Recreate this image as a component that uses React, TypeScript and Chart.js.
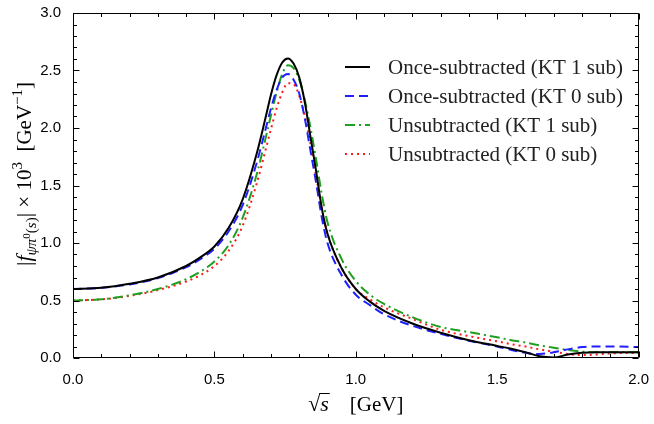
import React, { useEffect, useRef } from "react";
import { Chart, registerables } from "chart.js";
Chart.register(...registerables);

// sqrt(s) in GeV
const sqrtS = [0, 0.1, 0.2, 0.3, 0.4, 0.45, 0.5, 0.55, 0.6, 0.65, 0.68, 0.7, 0.72, 0.74, 0.76, 0.78, 0.8, 0.82, 0.84, 0.86, 0.88, 0.9, 0.95, 1.0, 1.05, 1.1, 1.2, 1.3, 1.4, 1.5, 1.55, 1.6, 1.65, 1.7, 1.75, 1.8, 1.85, 1.9, 2.0];

const onceKT1 = [0.60, 0.61, 0.645, 0.70, 0.80, 0.875, 0.97, 1.13, 1.38, 1.78, 2.08, 2.29, 2.46, 2.57, 2.605, 2.56, 2.44, 2.22, 1.92, 1.62, 1.30, 1.08, 0.78, 0.60, 0.49, 0.41, 0.30, 0.22, 0.155, 0.105, 0.08, 0.05, 0.015, 0.005, 0.03, 0.045, 0.05, 0.05, 0.05];
const onceKT0 = [0.60, 0.61, 0.64, 0.695, 0.79, 0.86, 0.95, 1.10, 1.33, 1.70, 1.98, 2.17, 2.33, 2.44, 2.47, 2.42, 2.30, 2.08, 1.80, 1.52, 1.22, 1.00, 0.72, 0.55, 0.46, 0.38, 0.28, 0.21, 0.15, 0.10, 0.07, 0.045, 0.035, 0.05, 0.075, 0.095, 0.10, 0.10, 0.095];
const unsubKT1 = [0.50, 0.51, 0.545, 0.60, 0.685, 0.75, 0.84, 0.98, 1.22, 1.60, 1.90, 2.11, 2.31, 2.47, 2.545, 2.52, 2.42, 2.24, 2.00, 1.72, 1.42, 1.18, 0.86, 0.67, 0.55, 0.47, 0.355, 0.27, 0.225, 0.18, 0.155, 0.135, 0.11, 0.09, 0.07, 0.055, 0.05, 0.05, 0.05];
const unsubKT0 = [0.50, 0.51, 0.54, 0.59, 0.665, 0.72, 0.80, 0.93, 1.15, 1.52, 1.80, 1.99, 2.17, 2.31, 2.39, 2.38, 2.28, 2.10, 1.86, 1.58, 1.30, 1.08, 0.78, 0.60, 0.51, 0.44, 0.34, 0.245, 0.19, 0.145, 0.12, 0.10, 0.075, 0.055, 0.035, 0.025, 0.03, 0.04, 0.045];

const seriesLabels = [
  "Once-subtracted (KT 1 sub)",
  "Once-subtracted (KT 0 sub)",
  "Unsubtracted (KT 1 sub)",
  "Unsubtracted (KT 0 sub)",
];
const seriesColors = ["#000000", "#1f1fff", "#1f9f1f", "#ff1a1a"];
const seriesDashes = [[], [9, 5], [10, 4, 2, 4], [2, 4]];
const seriesValues = [onceKT1, onceKT0, unsubKT1, unsubKT0];

const xMajor = [0, 0.5, 1.0, 1.5, 2.0];
const yMajor = [0, 0.5, 1.0, 1.5, 2.0, 2.5, 3.0];

const SERIF = "'Liberation Serif', 'DejaVu Serif', serif";
const SANS = "'Liberation Sans', Arial, sans-serif";

type Piece = { t: string; size: number; italic?: boolean; dy?: number };

function drawRich(ctx: CanvasRenderingContext2D, pieces: Piece[], cx: number, baseY: number) {
  let w = 0;
  const widths: number[] = [];
  for (const p of pieces) {
    ctx.font = `${p.italic ? "italic " : ""}${p.size}px ${SERIF}`;
    const m = ctx.measureText(p.t).width;
    widths.push(m);
    w += m;
  }
  let x = cx - w / 2;
  const pos: number[] = [];
  pieces.forEach((p, i) => {
    ctx.font = `${p.italic ? "italic " : ""}${p.size}px ${SERIF}`;
    ctx.fillText(p.t, x, baseY + (p.dy || 0));
    pos.push(x);
    x += widths[i];
  });
  return { pos, widths };
}

const decorPlugin = {
  id: "decor",
  afterDraw(chart: any) {
    const { ctx, chartArea: a, scales } = chart;
    const sx = scales.x;
    const sy = scales.y;
    ctx.save();
    ctx.strokeStyle = "#000";
    ctx.fillStyle = "#000";
    ctx.lineWidth = 1;
    const L = Math.round(a.left) + 0.5;
    const R = Math.round(a.right) - 0.5;
    const T = Math.round(a.top) + 0.5;
    const B = Math.round(a.bottom) - 0.5;
    ctx.beginPath();
    ctx.rect(L, T, R - L, B - T);
    ctx.stroke();
    // ticks
    ctx.beginPath();
    for (let i = 0; i <= 20; i++) {
      const v = i / 10;
      const len = i % 5 === 0 ? 6 : 3.5;
      const px = Math.round(sx.getPixelForValue(v)) + 0.5;
      ctx.moveTo(px, B);
      ctx.lineTo(px, B - len);
      ctx.moveTo(px, T);
      ctx.lineTo(px, T + len);
    }
    for (let i = 0; i <= 30; i++) {
      const v = i / 10;
      const len = i % 5 === 0 ? 6 : 3.5;
      const py = Math.round(sy.getPixelForValue(v)) + 0.5;
      ctx.moveTo(L, py);
      ctx.lineTo(L + len, py);
      ctx.moveTo(R, py);
      ctx.lineTo(R - len, py);
    }
    ctx.stroke();

    // legend
    const legX0 = 345;
    const legX1 = 370;
    const legText = 388;
    const legYs = [67, 96, 125, 154];
    ctx.font = `20px ${SERIF}`;
    const w0 = ctx.measureText(chart.data.datasets[0].label).width;
    const legSize = Math.min(22, 20 * 235 / w0);
    chart.data.datasets.forEach((ds: any, i: number) => {
      const y = legYs[i];
      ctx.save();
      ctx.strokeStyle = ds.borderColor;
      ctx.lineWidth = ds.borderWidth;
      ctx.setLineDash(ds.borderDash || []);
      ctx.beginPath();
      ctx.moveTo(legX0, y);
      ctx.lineTo(legX1, y);
      ctx.stroke();
      ctx.restore();
      ctx.font = `${legSize}px ${SERIF}`;
      ctx.textBaseline = "middle";
      ctx.fillStyle = "#222";
      ctx.fillText(ds.label, legText, y + 1);
    });

    // x title
    ctx.textBaseline = "alphabetic";
    ctx.fillStyle = "#000";
    const xt = drawRich(ctx, [
      { t: "\u221A", size: 22 },
      { t: "s", size: 22, italic: true },
      { t: "    [GeV]", size: 21 },
    ], (a.left + a.right) / 2 + 0, 411);
    ctx.beginPath();
    ctx.lineWidth = 1;
    ctx.moveTo(xt.pos[1] - 1, 393.5);
    ctx.lineTo(xt.pos[1] + xt.widths[1] + 1, 393.5);
    ctx.stroke();

    // y title
    ctx.save();
    ctx.translate(31, 174);
    ctx.rotate(-Math.PI / 2);
    drawRich(ctx, [
      { t: "|", size: 22 },
      { t: "f", size: 22, italic: true },
      { t: "\u03C8\u03C0", size: 15, italic: true, dy: 5 },
      { t: "0", size: 11, dy: -1 },
      { t: "(", size: 15, dy: 5 },
      { t: "s", size: 15, italic: true, dy: 5 },
      { t: ")", size: 15, dy: 5 },
      { t: "|", size: 22 },
      { t: " \u00D7 10", size: 21 },
      { t: "3", size: 15, dy: -9 },
      { t: "  [GeV", size: 21 },
      { t: "\u22121", size: 15, dy: -9 },
      { t: "]", size: 21 },
    ], 0, 0);
    ctx.restore();
    ctx.restore();
  },
};

export default function App() {
  const ref = useRef<HTMLCanvasElement | null>(null);
  useEffect(() => {
    if (!ref.current) return;
    const chart = new Chart(ref.current, {
      type: "line",
      data: {
        datasets: seriesValues.map((vals, i) => ({
          label: seriesLabels[i],
          data: vals.map((v, j) => ({ x: sqrtS[j], y: v })),
          borderColor: seriesColors[i],
          backgroundColor: seriesColors[i],
          borderWidth: 2,
          borderDash: seriesDashes[i],
          pointRadius: 0,
          fill: false,
          cubicInterpolationMode: "monotone" as const,
        })),
      },
      options: {
        animation: false,
        responsive: false,
        maintainAspectRatio: false,
        layout: { padding: { left: 0, right: 12, top: 9, bottom: 0 } },
        plugins: { legend: { display: false }, tooltip: { enabled: false } },
        scales: {
          x: {
            type: "linear",
            min: 0,
            max: 2,
            afterBuildTicks: (s: any) => { s.ticks = xMajor.map((v) => ({ value: v })); },
            afterFit: (s: any) => { s.height = 66; },
            ticks: {
              callback: (v: any) => Number(v).toFixed(1),
              font: { family: SANS, size: 15 },
              color: "#000",
              padding: 5,
              maxRotation: 0,
            },
            grid: { display: false },
            border: { display: false },
          },
          y: {
            type: "linear",
            min: 0,
            max: 3,
            afterBuildTicks: (s: any) => { s.ticks = yMajor.map((v) => ({ value: v })); },
            afterFit: (s: any) => { s.width = 73; },
            ticks: {
              callback: (v: any) => Number(v).toFixed(1),
              font: { family: SANS, size: 15 },
              color: "#000",
              padding: 4,
            },
            grid: { display: false },
            border: { display: false },
          },
        },
      },
      plugins: [decorPlugin],
    });
    return () => chart.destroy();
  }, []);
  return (
    <div style={{ position: "absolute", left: 0, top: 0, width: 654, height: 424, background: "#fff" }}>
      <canvas ref={ref} width={654} height={424} style={{ width: 654, height: 424 }} />
    </div>
  );
}
